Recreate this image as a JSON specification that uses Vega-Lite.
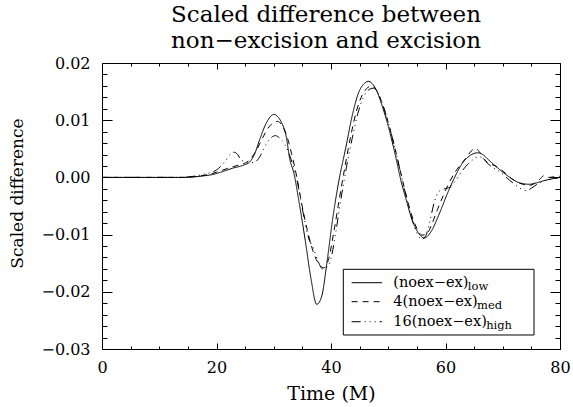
{
"$schema": "https://vega.github.io/schema/vega-lite/v6.json",
"width": 458, "height": 286,
"autosize": {"type": "none"},
"padding": {"left": 102, "top": 63, "right": 13, "bottom": 58},
"background": "white",
"title": {"text": ["Scaled difference between", "non−excision and excision"], "font": "DejaVu Serif", "fontSize": 23, "fontWeight": "normal", "color": "black", "anchor": "middle", "lineHeight": 26, "offset": 2, "dx": -5},
"config": {
  "view": {"stroke": "black", "strokeWidth": 1},
  "axis": {"grid": false, "domain": false, "labelFont": "DejaVu Serif", "titleFont": "DejaVu Serif", "labelColor": "black", "titleColor": "black", "tickColor": "black", "labelFontSize": 16, "titleFontSize": 17, "titleFontWeight": "normal", "labelFlush": false, "labelOverlap": false, "labelBound": false, "tickWidth": 1}
},
"datasets": {"curves": [
{"time":0,"diff":0,"series":"low"},{"time":14,"diff":0,"series":"low"},{"time":16,"diff":0.0001,"series":"low"},{"time":18,"diff":0.0003,"series":"low"},{"time":19.3,"diff":0.0005,"series":"low"},{"time":21,"diff":0.001,"series":"low"},{"time":22.8,"diff":0.0016,"series":"low"},{"time":24.6,"diff":0.0021,"series":"low"},{"time":25.8,"diff":0.0027,"series":"low"},{"time":26.7,"diff":0.0042,"series":"low"},{"time":27.5,"diff":0.0065,"series":"low"},{"time":28.7,"diff":0.0095,"series":"low"},{"time":30,"diff":0.011,"series":"low"},{"time":31.3,"diff":0.0097,"series":"low"},{"time":32.2,"diff":0.007,"series":"low"},{"time":32.8,"diff":0.0032,"series":"low"},{"time":33.5,"diff":0.0008,"series":"low"},{"time":34.5,"diff":-0.0048,"series":"low"},{"time":35.5,"diff":-0.011,"series":"low"},{"time":36.5,"diff":-0.0177,"series":"low"},{"time":37.5,"diff":-0.0222,"series":"low"},{"time":38.4,"diff":-0.0207,"series":"low"},{"time":39.3,"diff":-0.0148,"series":"low"},{"time":40.3,"diff":-0.0072,"series":"low"},{"time":41.3,"diff":-0.001,"series":"low"},{"time":42.6,"diff":0.0053,"series":"low"},{"time":43.8,"diff":0.0112,"series":"low"},{"time":44.9,"diff":0.015,"series":"low"},{"time":45.8,"diff":0.0164,"series":"low"},{"time":46.5,"diff":0.0168,"series":"low"},{"time":47.2,"diff":0.0164,"series":"low"},{"time":47.9,"diff":0.0153,"series":"low"},{"time":49,"diff":0.0123,"series":"low"},{"time":50.2,"diff":0.0082,"series":"low"},{"time":51.3,"diff":0.0036,"series":"low"},{"time":52.2,"diff":-0.0005,"series":"low"},{"time":53.1,"diff":-0.0038,"series":"low"},{"time":54.2,"diff":-0.0075,"series":"low"},{"time":55.4,"diff":-0.0099,"series":"low"},{"time":56.3,"diff":-0.0106,"series":"low"},{"time":57.4,"diff":-0.0096,"series":"low"},{"time":58.9,"diff":-0.0064,"series":"low"},{"time":60.3,"diff":-0.0029,"series":"low"},{"time":61.5,"diff":-0.0002,"series":"low"},{"time":62.9,"diff":0.0024,"series":"low"},{"time":64.4,"diff":0.0039,"series":"low"},{"time":65.6,"diff":0.0043,"series":"low"},{"time":66.5,"diff":0.004,"series":"low"},{"time":67.6,"diff":0.003,"series":"low"},{"time":69.3,"diff":0.0015,"series":"low"},{"time":71.1,"diff":0.0001,"series":"low"},{"time":72.8,"diff":-0.0009,"series":"low"},{"time":74.6,"diff":-0.0012,"series":"low"},{"time":75.7,"diff":-0.001,"series":"low"},{"time":77.5,"diff":-0.0005,"series":"low"},{"time":80,"diff":0,"series":"low"},
{"time":0,"diff":0,"series":"med"},{"time":14,"diff":0,"series":"med"},{"time":16,"diff":0.0001,"series":"med"},{"time":18,"diff":0.0004,"series":"med"},{"time":20,"diff":0.0009,"series":"med"},{"time":22,"diff":0.0016,"series":"med"},{"time":24,"diff":0.0022,"series":"med"},{"time":25.5,"diff":0.0028,"series":"med"},{"time":27,"diff":0.0048,"series":"med"},{"time":28,"diff":0.0068,"series":"med"},{"time":29,"diff":0.0086,"series":"med"},{"time":30,"diff":0.0096,"series":"med"},{"time":30.7,"diff":0.0098,"series":"med"},{"time":31.5,"diff":0.009,"series":"med"},{"time":32.3,"diff":0.0072,"series":"med"},{"time":33.1,"diff":0.0042,"series":"med"},{"time":34,"diff":0.0002,"series":"med"},{"time":35,"diff":-0.0052,"series":"med"},{"time":36,"diff":-0.0098,"series":"med"},{"time":37,"diff":-0.0133,"series":"med"},{"time":38,"diff":-0.0153,"series":"med"},{"time":38.8,"diff":-0.0158,"series":"med"},{"time":39.6,"diff":-0.0142,"series":"med"},{"time":40.5,"diff":-0.0095,"series":"med"},{"time":41.5,"diff":-0.0035,"series":"med"},{"time":42.5,"diff":0.0022,"series":"med"},{"time":43.5,"diff":0.0075,"series":"med"},{"time":44.5,"diff":0.0118,"series":"med"},{"time":45.5,"diff":0.0145,"series":"med"},{"time":46.4,"diff":0.0157,"series":"med"},{"time":47.1,"diff":0.016,"series":"med"},{"time":47.9,"diff":0.0153,"series":"med"},{"time":49,"diff":0.0128,"series":"med"},{"time":50,"diff":0.0096,"series":"med"},{"time":51,"diff":0.0058,"series":"med"},{"time":52,"diff":0.0016,"series":"med"},{"time":53,"diff":-0.0026,"series":"med"},{"time":54,"diff":-0.0063,"series":"med"},{"time":55,"diff":-0.0089,"series":"med"},{"time":55.9,"diff":-0.0101,"series":"med"},{"time":56.7,"diff":-0.0099,"series":"med"},{"time":57.6,"diff":-0.0082,"series":"med"},{"time":58.6,"diff":-0.0056,"series":"med"},{"time":59.6,"diff":-0.0032,"series":"med"},{"time":60.6,"diff":-0.001,"series":"med"},{"time":61.6,"diff":0.0008,"series":"med"},{"time":62.6,"diff":0.0022,"series":"med"},{"time":63.6,"diff":0.0034,"series":"med"},{"time":64.5,"diff":0.0046,"series":"med"},{"time":65.2,"diff":0.0051,"series":"med"},{"time":65.9,"diff":0.0045,"series":"med"},{"time":66.7,"diff":0.0032,"series":"med"},{"time":67.6,"diff":0.0024,"series":"med"},{"time":68.5,"diff":0.0021,"series":"med"},{"time":69.5,"diff":0.0015,"series":"med"},{"time":70.5,"diff":0.0007,"series":"med"},{"time":71.5,"diff":-0.0002,"series":"med"},{"time":72.5,"diff":-0.0008,"series":"med"},{"time":73.5,"diff":-0.0012,"series":"med"},{"time":74.5,"diff":-0.0014,"series":"med"},{"time":75.5,"diff":-0.0011,"series":"med"},{"time":76.4,"diff":-0.0004,"series":"med"},{"time":77.2,"diff":0.0003,"series":"med"},{"time":78,"diff":0,"series":"med"},{"time":79,"diff":0.0001,"series":"med"},{"time":80,"diff":0.0002,"series":"med"},
{"time":0,"diff":0,"series":"high"},{"time":14,"diff":0,"series":"high"},{"time":16,"diff":0.0002,"series":"high"},{"time":18,"diff":0.0006,"series":"high"},{"time":20,"diff":0.0013,"series":"high"},{"time":21.5,"diff":0.0028,"series":"high"},{"time":22.5,"diff":0.0041,"series":"high"},{"time":23,"diff":0.0044,"series":"high"},{"time":23.7,"diff":0.004,"series":"high"},{"time":24.3,"diff":0.003,"series":"high"},{"time":25.5,"diff":0.0027,"series":"high"},{"time":26.5,"diff":0.0026,"series":"high"},{"time":27.5,"diff":0.0035,"series":"high"},{"time":28.5,"diff":0.0055,"series":"high"},{"time":29.5,"diff":0.0069,"series":"high"},{"time":30.3,"diff":0.0073,"series":"high"},{"time":31,"diff":0.0069,"series":"high"},{"time":32,"diff":0.0057,"series":"high"},{"time":33,"diff":0.0032,"series":"high"},{"time":34,"diff":-0.0002,"series":"high"},{"time":35,"diff":-0.0055,"series":"high"},{"time":36,"diff":-0.0103,"series":"high"},{"time":37,"diff":-0.0126,"series":"high"},{"time":37.8,"diff":-0.0148,"series":"high"},{"time":38.5,"diff":-0.016,"series":"high"},{"time":39.2,"diff":-0.0158,"series":"high"},{"time":40,"diff":-0.0142,"series":"high"},{"time":40.8,"diff":-0.0098,"series":"high"},{"time":41.7,"diff":-0.004,"series":"high"},{"time":42.7,"diff":0.0018,"series":"high"},{"time":43.7,"diff":0.0068,"series":"high"},{"time":44.7,"diff":0.0112,"series":"high"},{"time":45.7,"diff":0.0141,"series":"high"},{"time":46.7,"diff":0.0154,"series":"high"},{"time":47.4,"diff":0.0156,"series":"high"},{"time":48.2,"diff":0.0148,"series":"high"},{"time":49,"diff":0.0128,"series":"high"},{"time":50,"diff":0.0096,"series":"high"},{"time":51,"diff":0.0058,"series":"high"},{"time":52,"diff":0.0015,"series":"high"},{"time":53,"diff":-0.0028,"series":"high"},{"time":54,"diff":-0.0068,"series":"high"},{"time":55,"diff":-0.0097,"series":"high"},{"time":55.8,"diff":-0.0108,"series":"high"},{"time":56.5,"diff":-0.0103,"series":"high"},{"time":57.3,"diff":-0.0075,"series":"high"},{"time":58,"diff":-0.0045,"series":"high"},{"time":58.8,"diff":-0.0025,"series":"high"},{"time":59.8,"diff":-0.002,"series":"high"},{"time":60.8,"diff":-0.0017,"series":"high"},{"time":61.8,"diff":-0.0005,"series":"high"},{"time":62.8,"diff":0.001,"series":"high"},{"time":63.8,"diff":0.0022,"series":"high"},{"time":64.8,"diff":0.0031,"series":"high"},{"time":65.7,"diff":0.0036,"series":"high"},{"time":66.5,"diff":0.0035,"series":"high"},{"time":67.3,"diff":0.0025,"series":"high"},{"time":68.2,"diff":0.0018,"series":"high"},{"time":69.2,"diff":0.0012,"series":"high"},{"time":70.2,"diff":0.0004,"series":"high"},{"time":71.2,"diff":-0.0005,"series":"high"},{"time":72.2,"diff":-0.0013,"series":"high"},{"time":73.2,"diff":-0.002,"series":"high"},{"time":74.2,"diff":-0.0023,"series":"high"},{"time":75,"diff":-0.0019,"series":"high"},{"time":76,"diff":-0.0012,"series":"high"},{"time":77,"diff":-0.0007,"series":"high"},{"time":78.5,"diff":-0.0003,"series":"high"},{"time":80,"diff":0,"series":"high"}
]},
"resolve": {"axis": {"x": "independent", "y": "independent"}},
"layer": [
  {"data": {"name": "curves"},
   "mark": {"type": "line", "color": "black", "strokeWidth": 1, "interpolate": "monotone", "clip": true},
   "encoding": {
     "x": {"field": "time", "type": "quantitative", "scale": {"domain": [0, 80], "nice": false, "zero": false},
           "axis": {"orient": "bottom", "values": [0, 20, 40, 60, 80], "tickSize": -6, "labelPadding": 16, "title": "Time (M)", "titlePadding": 9, "titleFontSize": 19}},
     "y": {"field": "diff", "type": "quantitative", "scale": {"domain": [-0.03, 0.02], "nice": false, "zero": false},
           "axis": {"orient": "left", "values": [-0.03, -0.02, -0.01, 0, 0.01, 0.02], "format": ".2f", "tickSize": -10, "labelPadding": 22, "title": "Scaled difference", "titleX": -80, "titleY": 130, "titleBaseline": "alphabetic", "titleAngle": 270}},
     "strokeDash": {"field": "series", "type": "nominal", "scale": {"domain": ["low", "med", "high"], "range": [[1, 0], [6, 5], [9, 4, 1, 4, 1, 4, 1, 4]]}, "legend": null}
   }},
  {"data": {"name": "curves"},
   "mark": {"type": "line", "opacity": 0},
   "encoding": {
     "x": {"field": "time", "type": "quantitative", "scale": {"domain": [0, 80], "nice": false, "zero": false},
           "axis": {"orient": "bottom", "values": [5, 10, 15, 25, 30, 35, 45, 50, 55, 65, 70, 75], "tickSize": -3, "labels": false, "title": null}},
     "y": {"field": "diff", "type": "quantitative", "scale": {"domain": [-0.03, 0.02], "nice": false, "zero": false},
           "axis": {"orient": "left", "values": [-0.028, -0.026, -0.024, -0.022, -0.018, -0.016, -0.014, -0.012, -0.008, -0.006, -0.004, -0.002, 0.002, 0.004, 0.006, 0.008, 0.012, 0.014, 0.016, 0.018], "tickSize": -5, "labels": false, "title": null}},
     "detail": {"field": "series"}
   }},
  {"data": {"name": "curves"},
   "mark": {"type": "line", "opacity": 0},
   "encoding": {
     "x": {"field": "time", "type": "quantitative", "scale": {"domain": [0, 80], "nice": false, "zero": false},
           "axis": {"orient": "top", "values": [0, 20, 40, 60, 80], "tickSize": -6, "labels": false, "title": null}},
     "y": {"field": "diff", "type": "quantitative", "scale": {"domain": [-0.03, 0.02], "nice": false, "zero": false},
           "axis": {"orient": "right", "values": [-0.03, -0.02, -0.01, 0, 0.01, 0.02], "tickSize": -10, "labels": false, "title": null}},
     "detail": {"field": "series"}
   }},
  {"data": {"name": "curves"},
   "mark": {"type": "line", "opacity": 0},
   "encoding": {
     "x": {"field": "time", "type": "quantitative", "scale": {"domain": [0, 80], "nice": false, "zero": false},
           "axis": {"orient": "top", "values": [5, 10, 15, 25, 30, 35, 45, 50, 55, 65, 70, 75], "tickSize": -3, "labels": false, "title": null}},
     "y": {"field": "diff", "type": "quantitative", "scale": {"domain": [-0.03, 0.02], "nice": false, "zero": false},
           "axis": {"orient": "right", "values": [-0.028, -0.026, -0.024, -0.022, -0.018, -0.016, -0.014, -0.012, -0.008, -0.006, -0.004, -0.002, 0.002, 0.004, 0.006, 0.008, 0.012, 0.014, 0.016, 0.018], "tickSize": -5, "labels": false, "title": null}},
     "detail": {"field": "series"}
   }},
  {"data": {"values": [{}]},
   "mark": {"type": "rect", "fill": "white", "stroke": "black", "strokeWidth": 1},
   "encoding": {"x": {"datum": 42.15, "type": "quantitative", "axis": null}, "x2": {"datum": 75.46}, "y": {"datum": -0.01607, "type": "quantitative", "axis": null}, "y2": {"datum": -0.02755}}},
  {"data": {"values": [{}]},
   "mark": {"type": "rule", "color": "black", "strokeWidth": 1},
   "encoding": {"x": {"datum": 43.6, "type": "quantitative", "axis": null}, "x2": {"datum": 48.9}, "y": {"datum": -0.01841, "type": "quantitative", "axis": null}}},
  {"data": {"values": [{}]},
   "mark": {"type": "rule", "color": "black", "strokeWidth": 1, "strokeDash": [6, 5]},
   "encoding": {"x": {"datum": 43.6, "type": "quantitative", "axis": null}, "x2": {"datum": 48.9}, "y": {"datum": -0.02173, "type": "quantitative", "axis": null}}},
  {"data": {"values": [{}]},
   "mark": {"type": "rule", "color": "black", "strokeWidth": 1, "strokeDash": [9, 4, 1, 4, 1, 4, 1, 4]},
   "encoding": {"x": {"datum": 43.6, "type": "quantitative", "axis": null}, "x2": {"datum": 48.9}, "y": {"datum": -0.02523, "type": "quantitative", "axis": null}}},
  {"data": {"values": [{}]},
   "mark": {"type": "text", "text": "(noex−ex)", "align": "left", "baseline": "middle", "font": "DejaVu Serif", "fontSize": 14.5, "color": "black"},
   "encoding": {"x": {"datum": 50.88, "type": "quantitative", "axis": null}, "y": {"datum": -0.01841, "type": "quantitative", "axis": null}}},
  {"data": {"values": [{}]},
   "mark": {"type": "text", "text": "4(noex−ex)", "align": "left", "baseline": "middle", "font": "DejaVu Serif", "fontSize": 14.5, "color": "black"},
   "encoding": {"x": {"datum": 50.88, "type": "quantitative", "axis": null}, "y": {"datum": -0.02173, "type": "quantitative", "axis": null}}},
  {"data": {"values": [{}]},
   "mark": {"type": "text", "text": "16(noex−ex)", "align": "left", "baseline": "middle", "font": "DejaVu Serif", "fontSize": 14.5, "color": "black"},
   "encoding": {"x": {"datum": 50.88, "type": "quantitative", "axis": null}, "y": {"datum": -0.02523, "type": "quantitative", "axis": null}}},
  {"data": {"values": [{}]},
   "mark": {"type": "text", "text": "low", "align": "left", "baseline": "alphabetic", "dy": 7, "font": "DejaVu Serif", "fontSize": 11.5, "color": "black"},
   "encoding": {"x": {"datum": 63.9, "type": "quantitative", "axis": null}, "y": {"datum": -0.01841, "type": "quantitative", "axis": null}}},
  {"data": {"values": [{}]},
   "mark": {"type": "text", "text": "med", "align": "left", "baseline": "alphabetic", "dy": 7, "font": "DejaVu Serif", "fontSize": 11.5, "color": "black"},
   "encoding": {"x": {"datum": 65.5, "type": "quantitative", "axis": null}, "y": {"datum": -0.02173, "type": "quantitative", "axis": null}}},
  {"data": {"values": [{}]},
   "mark": {"type": "text", "text": "high", "align": "left", "baseline": "alphabetic", "dy": 7, "font": "DejaVu Serif", "fontSize": 11.5, "color": "black"},
   "encoding": {"x": {"datum": 67.1, "type": "quantitative", "axis": null}, "y": {"datum": -0.02523, "type": "quantitative", "axis": null}}}
]
}
